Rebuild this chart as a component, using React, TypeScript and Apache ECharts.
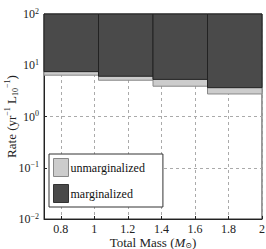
import React, { useEffect, useRef } from "react";
import * as echarts from "echarts";

const binEdges = [0.7, 1.025, 1.35, 1.675, 2.0];
const upperRate = 100;
const marginalizedLow = [7.5, 6.1, 5.3, 3.65];
const unmarginalizedLow = [6.4, 5.1, 3.9, 2.75];
const xTickValues = [0.8, 1, 1.2, 1.4, 1.6, 1.8, 2];

const FONT = "'Times New Roman', 'Liberation Serif', 'DejaVu Serif', serif";

function toBins(lows: number[]) {
  return lows.map((low, i) => [binEdges[i], binEdges[i + 1], low, upperRate]);
}

function makeRender(fill: string, stroke: string) {
  return (params: any, api: any) => {
    const x0 = api.value(0);
    const x1 = api.value(1);
    const lo = api.value(2);
    const hi = api.value(3);
    const p0 = api.coord([x0, hi]);
    const p1 = api.coord([x1, lo]);
    return {
      type: "rect",
      shape: { x: p0[0], y: p0[1], width: p1[0] - p0[0], height: p1[1] - p0[1] },
      style: { fill, stroke, lineWidth: 1 },
    };
  };
}

export default function App() {
  const ref = useRef<HTMLDivElement>(null);
  useEffect(() => {
    document.body.style.margin = "0";
    if (!ref.current) return;
    const chart = echarts.init(ref.current, undefined, { renderer: "svg" });
    const light = "#cccccc";
    const dark = "#4a4a4a";
    chart.setOption({
      animation: false,
      textStyle: { fontFamily: FONT },
      grid: {
        left: 44,
        right: 4,
        top: 14,
        bottom: 30,
        show: true,
        borderColor: "#333",
        borderWidth: 1,
        containLabel: false,
        outerBoundsMode: "none",
      },
      legend: {
        orient: "vertical",
        left: 49,
        top: 154,
        itemWidth: 15,
        itemHeight: 18,
        itemGap: 7,
        padding: [4, 18, 4, 4],
        borderColor: "#333",
        borderWidth: 1,
        backgroundColor: "#fff",
        selectedMode: false,
        textStyle: { fontFamily: FONT, fontSize: 12, color: "#111", padding: [0, 0, 0, -3] },
        data: [
          { name: "unmarginalized", icon: "rect", itemStyle: { color: light, borderColor: "#888", borderWidth: 1 } },
          { name: "marginalized", icon: "rect", itemStyle: { color: dark, borderColor: "#333", borderWidth: 1 } },
        ],
      },
      xAxis: {
        type: "value",
        min: binEdges[0],
        max: binEdges[binEdges.length - 1],
        splitNumber: 6,
        minInterval: 0.2,
        maxInterval: 0.2,
        name: "Total Mass ({i|M}{sub|⊙})",
        nameLocation: "middle",
        nameGap: 17,
        nameMoveOverlap: false,
        nameTextStyle: {
          fontFamily: FONT,
          fontSize: 13,
          color: "#222",
          lineHeight: 13,
          rich: {
            i: { fontFamily: FONT, fontSize: 13, fontStyle: "italic", color: "#222", lineHeight: 13 },
            sub: { fontFamily: FONT, fontSize: 8, color: "#222", verticalAlign: "bottom", lineHeight: 13 },
          },
        },
        axisLine: { lineStyle: { color: "#222" } },
        axisTick: { inside: true, length: 3, lineStyle: { color: "#222" } },
        axisLabel: {
          fontFamily: FONT,
          fontSize: 12,
          lineHeight: 12,
          color: "#222",
          margin: 4,
          formatter: (v: number) =>
            xTickValues.some((t) => Math.abs(t - v) < 1e-6) ? String(Math.round(v * 10) / 10) : "",
        },
        splitLine: { show: true, lineStyle: { color: "#aaa", type: [3, 3], width: 1 } },
      },
      yAxis: {
        type: "log",
        logBase: 10,
        min: 0.01,
        max: 100,
        name: "Rate (yr{sup|−1} L{sub|10}{sup|−1})",
        nameLocation: "middle",
        nameGap: 25,
        nameRotate: 90,
        nameMoveOverlap: false,
        nameTextStyle: {
          fontFamily: FONT,
          fontSize: 13,
          color: "#222",
          lineHeight: 16,
          rich: {
            sup: { fontFamily: FONT, fontSize: 8, color: "#222", verticalAlign: "top", lineHeight: 16 },
            sub: { fontFamily: FONT, fontSize: 8, color: "#222", verticalAlign: "bottom", lineHeight: 16 },
          },
        },
        axisLine: { show: true, lineStyle: { color: "#222" } },
        axisTick: { show: true, inside: true, length: 3, lineStyle: { color: "#222" } },
        axisLabel: {
          fontFamily: FONT,
          fontSize: 12,
          color: "#222",
          margin: 5,
          formatter: (v: number) => {
            const e = Math.round(Math.log10(v));
            return "10{sup|" + (e < 0 ? "−" + -e : String(e)) + "}";
          },
          rich: {
            sup: { fontFamily: FONT, fontSize: 8, color: "#222", verticalAlign: "top", lineHeight: 14 },
          },
        },
        splitLine: { show: true, lineStyle: { color: "#aaa", type: [3, 3], width: 1 } },
      },
      series: [
        {
          name: "unmarginalized",
          type: "custom",
          renderItem: makeRender(light, "#888"),
          itemStyle: { color: light },
          encode: { x: [0, 1], y: [2, 3] },
          data: toBins(unmarginalizedLow),
          z: 2,
        },
        {
          name: "marginalized",
          type: "custom",
          renderItem: makeRender(dark, "#222"),
          itemStyle: { color: dark },
          encode: { x: [0, 1], y: [2, 3] },
          data: toBins(marginalizedLow),
          z: 3,
        },
      ],
    });
    return () => chart.dispose();
  }, []);
  return <div ref={ref} style={{ width: 266, height: 249 }} />;
}
